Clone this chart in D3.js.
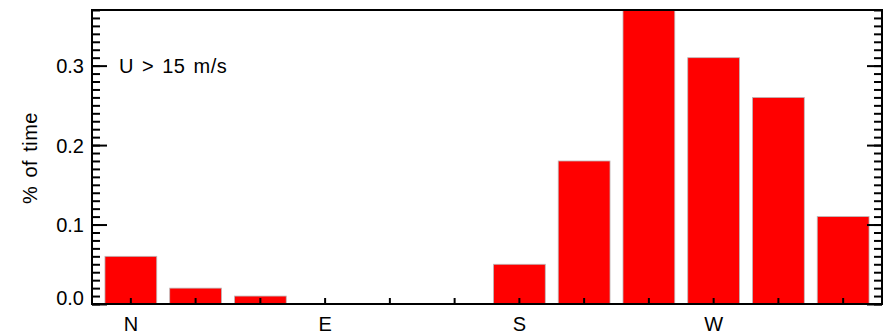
<!DOCTYPE html>
<html>
<head>
<meta charset="utf-8">
<script src="https://cdn.jsdelivr.net/npm/d3@7"></script>
<style>
  body { margin: 0; background: #fff; }
  text { font-family: "Liberation Sans", Arial, sans-serif; fill: #000; }
</style>
</head>
<body>
<div id="canvas"></div>
<script>
// wind direction sectors, 30 deg each
var sectors = ["0", "30", "60", "90", "120", "150", "180", "210", "240", "270", "300", "330"];
var sectorLabels = ["N", "", "", "E", "", "", "S", "", "", "W", "", ""];
// % of time with U > 15 m/s
var pctTime = [0.06, 0.02, 0.01, 0, 0, 0, 0.05, 0.18, 0.38, 0.31, 0.26, 0.11];
var yMajor = [0, 0.1, 0.2, 0.3];
var yMinor = d3.range(0, 38).map(function(i){ return i / 100; });

draw();

function draw(){
	var w = 890, h = 335;
	var left = 92, right = 882, top = 10, bottom = 304;

	var svg = d3.select("#canvas").append("svg")
		.attr("width", w)
		.attr("height", h);

	var xScale = d3.scaleBand()
		.domain(sectors)
		.range([left, right])
		.paddingInner(0.2)
		.paddingOuter(0.2);
	var yScale = d3.scaleLinear()
		.domain([0, 0.37])
		.range([bottom, top]);

	svg.append("clipPath").attr("id", "plot")
		.append("rect")
		.attr("x", left).attr("y", top)
		.attr("width", right - left).attr("height", bottom - top);

	// bars
	svg.append("g").attr("clip-path", "url(#plot)")
		.selectAll("rect")
		.data(sectors.map(function(s, i){ return {s: s, v: pctTime[i]}; })
			.filter(function(d){ return d.v > 0; }))
		.join("rect")
		.attr("x", function(d){ return xScale(d.s); })
		.attr("y", function(d){ return yScale(d.v); })
		.attr("width", xScale.bandwidth())
		.attr("height", function(d){ return bottom - yScale(d.v); })
		.attr("fill", "#ff0000")
		.attr("stroke", "#bbb")
		.attr("stroke-width", 0.8);

	// left axis: minor then major
	svg.append("g").attr("transform", "translate(" + left + ",0)")
		.call(d3.axisLeft(yScale).tickValues(yMinor).tickSize(-8).tickFormat(""));
	var yAx = svg.append("g").attr("transform", "translate(" + left + ",0)")
		.call(d3.axisLeft(yScale).tickValues(yMajor).tickSize(-15).tickPadding(8)
			.tickFormat(d3.format(".1f")));
	yAx.selectAll("text")
		.attr("dy", function(d){ return d === 0 ? "0em" : "0.35em"; })
		.attr("y", function(d){ return d === 0 ? 0 : null; });

	// right axis
	svg.append("g").attr("transform", "translate(" + right + ",0)")
		.call(d3.axisRight(yScale).tickValues(yMinor).tickSize(-8).tickFormat(""));
	svg.append("g").attr("transform", "translate(" + right + ",0)")
		.call(d3.axisRight(yScale).tickValues(yMajor).tickSize(-15).tickFormat(""));

	// bottom axis
	svg.append("g").attr("transform", "translate(0," + bottom + ")")
		.call(d3.axisBottom(xScale).tickSize(-6).tickPadding(13)
			.tickFormat(function(d, i){ return sectorLabels[i]; }));

	svg.selectAll(".domain").remove();
	svg.selectAll(".tick line").attr("stroke", "#000").attr("stroke-width", 2);
	svg.selectAll(".tick text")
		.style("font-family", "'Liberation Sans', Arial, sans-serif")
		.style("font-size", "20px")
		.attr("fill", "#000");

	// frame
	svg.append("rect")
		.attr("x", left).attr("y", top)
		.attr("width", right - left).attr("height", bottom - top)
		.attr("fill", "none")
		.attr("stroke", "#000")
		.attr("stroke-width", 2);

	svg.append("text")
		.attr("x", 119).attr("y", 73)
		.style("font-size", "20px")
		.style("letter-spacing", "0.5px")
		.style("word-spacing", "2px")
		.text("U > 15 m/s");

	svg.append("text")
		.attr("transform", "translate(37,158) rotate(-90)")
		.attr("text-anchor", "middle")
		.style("font-size", "20px")
		.style("letter-spacing", "0.5px")
		.style("word-spacing", "2px")
		.text("% of time");
}
</script>
</body>
</html>
